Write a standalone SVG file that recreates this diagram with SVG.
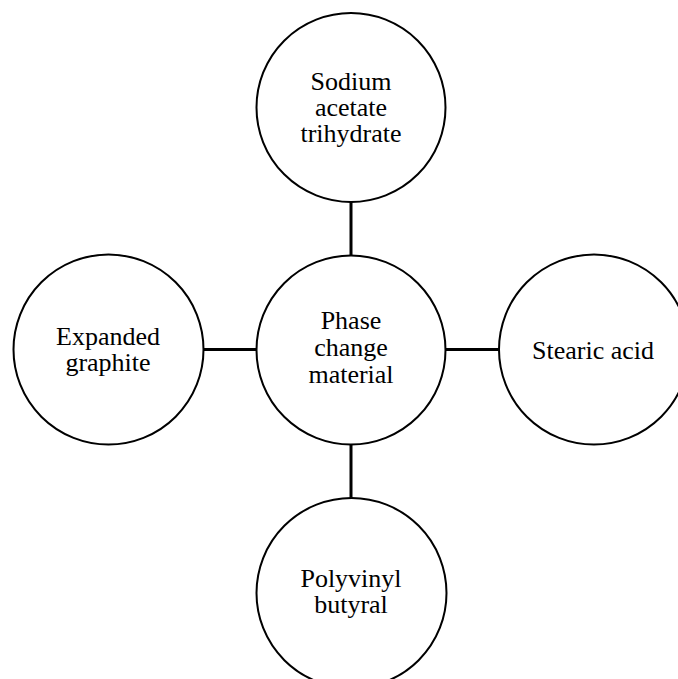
<svg xmlns="http://www.w3.org/2000/svg" width="678" height="679" viewBox="0 0 678 679">
<style>
.node circle{fill:#fff;stroke:#000;stroke-width:2}
.node text{font-family:"Liberation Serif","Times New Roman",serif;font-size:26px;fill:#000;text-anchor:middle}
.edges line{stroke:#000;stroke-width:3}
</style>
<rect width="678" height="679" fill="#fff"/>
<g class="edges">
<line x1="351" y1="202" x2="351" y2="256"/>
<line x1="351" y1="445" x2="351" y2="498"/>
<line x1="204" y1="349.5" x2="257" y2="349.5"/>
<line x1="446" y1="349.5" x2="499" y2="349.5"/>
</g>
<g id="center" class="node">
<circle cx="351" cy="350" r="94.5"/>
<text x="351" y="329">Phase</text>
<text x="351" y="356">change</text>
<text x="351" y="383">material</text>
</g>
<g id="top" class="node">
<circle cx="351" cy="107.5" r="94.5"/>
<text x="351" y="90">Sodium</text>
<text x="351" y="116">acetate</text>
<text x="351" y="142">trihydrate</text>
</g>
<g id="left" class="node">
<circle cx="108.5" cy="349.5" r="95"/>
<text x="108" y="345">Expanded</text>
<text x="108" y="371">graphite</text>
</g>
<g id="right" class="node">
<circle cx="594" cy="349.5" r="95"/>
<text x="593" y="359">Stearic acid</text>
</g>
<g id="bottom" class="node">
<circle cx="351.5" cy="593" r="95"/>
<text x="351" y="587">Polyvinyl</text>
<text x="351" y="613">butyral</text>
</g>
</svg>
